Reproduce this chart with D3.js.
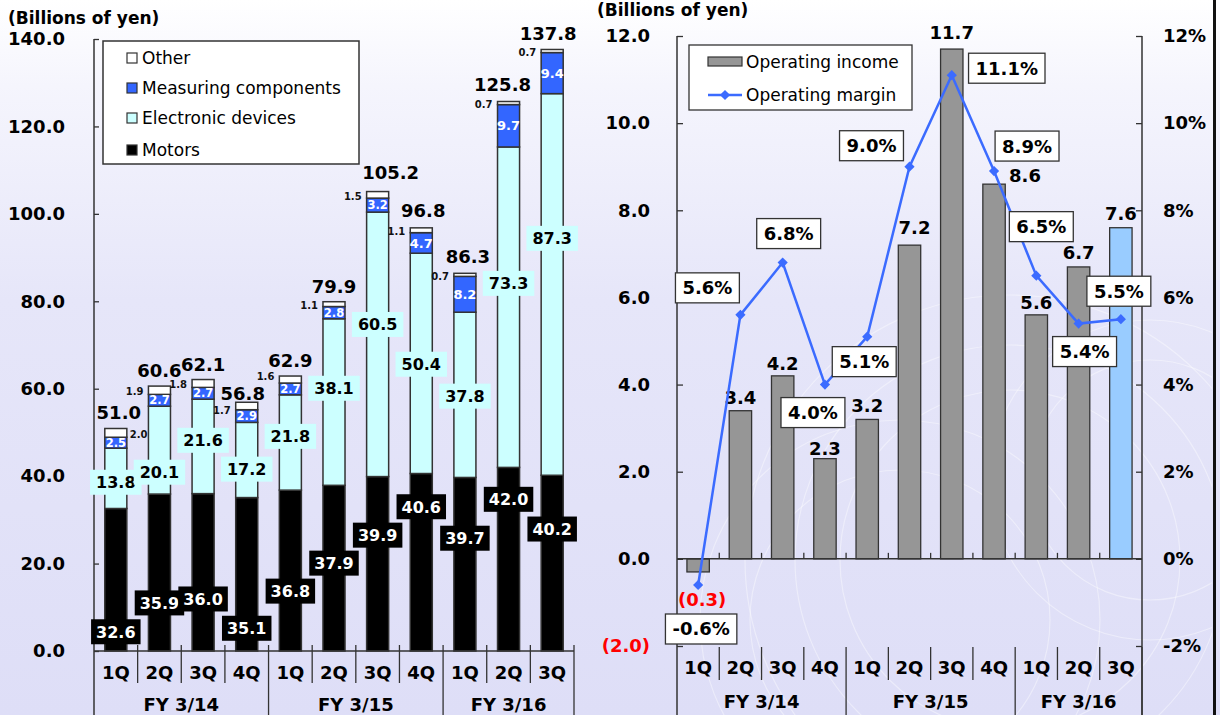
<!DOCTYPE html>
<html>
<head>
<meta charset="utf-8">
<script src="https://cdn.jsdelivr.net/npm/d3@7"></script>
<style>
  html, body { margin: 0; padding: 0; background: #fff; }
  svg { display: block; }
</style>
</head>
<body>
<svg id="chart" width="1220" height="715"></svg>
<script>
// ---- Data -------------------------------------------------------------
const quarters = ["1Q", "2Q", "3Q", "4Q", "1Q", "2Q", "3Q", "4Q", "1Q", "2Q", "3Q"];
const fiscalYears = ["FY 3/14", "FY 3/15", "FY 3/16"];
const quartersPerYear = [4, 4, 3];

// Net sales by segment (billions of yen)
const motors     = [32.6, 35.9, 36.0, 35.1, 36.8, 37.9, 39.9, 40.6, 39.7, 42.0, 40.2];
const electronic = [13.8, 20.1, 21.6, 17.2, 21.8, 38.1, 60.5, 50.4, 37.8, 73.3, 87.3];
const measuring  = [2.5, 2.7, 2.7, 2.9, 2.7, 2.8, 3.2, 4.7, 8.2, 9.7, 9.4];
const other      = [2.0, 1.9, 1.8, 1.7, 1.6, 1.1, 1.5, 1.1, 0.7, 0.7, 0.7];
const totals     = [51.0, 60.6, 62.1, 56.8, 62.9, 79.9, 105.2, 96.8, 86.3, 125.8, 137.8];
const salesTicks = [0, 20, 40, 60, 80, 100, 120, 140];

// Operating income (billions of yen) and operating margin (%)
const operatingIncome = [-0.3, 3.4, 4.2, 2.3, 3.2, 7.2, 11.7, 8.6, 5.6, 6.7, 7.6];
const operatingMargin = [-0.6, 5.6, 6.8, 4.0, 5.1, 9.0, 11.1, 8.9, 6.5, 5.4, 5.5];
const incomeTicks = [-2, 0, 2, 4, 6, 8, 10, 12];
const marginTicks = [-2, 0, 2, 4, 6, 8, 10, 12];

// ---- Label placement (value units / pixel nudges) ----------------------
const motorLabelAt      = [4.4, 11.0, 11.9, 5.2, 13.7, 20.1, 26.5, 33.0, 25.8, 34.7, 27.9];
const electronicLabelAt = [38.6, 40.9, 48.2, 41.6, 49.1, 60.1, 74.7, 65.6, 58.3, 84.1, 94.4];
const otherLabelDy      = [0, 0, 0, 3, -5, 0, 0, 0, 0, 0, 0];
const totalLabelNudge   = [[3, 0], [0, 0], [0, 0], [-4, 6], [0, 0], [0, 0],
                           [13, -3], [2, -2], [3, -2], [-6, -1], [-4, 0]];
const marginLabelNudge  = [[3, 44], [-33, -27], [6, -29], [-12, 28], [-3, 25], [-38, -21],
                           [55, -7], [33, -25], [5, -49], [6, 28], [-2, -28]];
const incomeLabelNudge  = [[4, 28], [0, -13], [0, -12.5], [0, -10.5], [0, -14], [5, -18],
                           [0, -17], [31, -9], [0, -12], [0, -14], [0, -14]];

// ---- Setup ------------------------------------------------------------
const FONT = '"DejaVu Sans", Verdana, sans-serif';
const W = 1220, H = 715;
const svg = d3.select("#chart").attr("font-family", FONT);
const defs = svg.append("defs");

const bg = defs.append("linearGradient").attr("id", "bg")
  .attr("x1", 0).attr("y1", 0).attr("x2", 0).attr("y2", 1);
[[0, "#ffffff"], [0.12, "#f5f5fd"], [0.42, "#e6e6f9"], [1, "#dedef7"]]
  .forEach(([o, c]) => bg.append("stop").attr("offset", o).attr("stop-color", c));
svg.append("rect").attr("width", W).attr("height", H).attr("fill", "url(#bg)");

// faint decorative swirls behind the right-hand panel
defs.append("clipPath").attr("id", "swirlClip")
  .append("rect").attr("x", 640).attr("y", 0).attr("width", 572).attr("height", H);
const swirl = svg.append("g").attr("clip-path", "url(#swirlClip)")
  .attr("fill", "none").attr("stroke", "#ffffff").attr("stroke-opacity", 0.4).attr("stroke-width", 1.2);
[[1010, 560, 170], [1010, 560, 215], [1010, 560, 265], [1150, 480, 120], [1150, 480, 160],
 [900, 620, 150], [900, 620, 200]].forEach(([cx, cy, r]) =>
  swirl.append("circle").attr("cx", cx).attr("cy", cy).attr("r", r));

// right frame line
svg.append("line").attr("x1", 1214.5).attr("x2", 1214.5).attr("y1", 0).attr("y2", H)
  .attr("stroke", "#111").attr("stroke-width", 3);

// label box helper
function boxLabel(g, cx, cy, text, opt) {
  const o = Object.assign({ size: 16, padX: 5, h: 25, fill: "#fff", color: "#000", stroke: "none", sw: 1.2 }, opt);
  const grp = g.append("g");
  const rect = grp.append("rect");
  const t = grp.append("text").attr("x", cx).attr("y", cy).attr("dy", "0.36em")
    .attr("text-anchor", "middle").attr("font-size", o.size).attr("font-weight", "bold")
    .attr("fill", o.color).text(text);
  const w = t.node().getComputedTextLength() + 2 * o.padX;
  rect.attr("x", cx - w / 2).attr("y", cy - o.h / 2).attr("width", w).attr("height", o.h)
    .attr("fill", o.fill).attr("stroke", o.stroke).attr("stroke-width", o.sw);
  return grp;
}

// category axis (quarters + fiscal-year groups)
function categoryAxis(g, x, yTop, yShortEnd, qY, fyY) {
  const bw = x.bandwidth();
  const x0 = x.range()[0];
  const groupEnds = d3.cumsum(quartersPerYear);
  for (let i = 1; i <= quarters.length; i++) {
    const xx = x0 + i * bw;
    const long = groupEnds.includes(i);
    g.append("line").attr("x1", xx).attr("x2", xx).attr("y1", yTop).attr("y2", long ? H : yShortEnd)
      .attr("stroke", "#333").attr("stroke-width", 1.3);
  }
  g.selectAll(".q").data(quarters).join("text")
    .attr("x", (d, i) => x(i) + bw / 2).attr("y", qY).attr("dy", "0.36em")
    .attr("text-anchor", "middle").attr("font-size", 18).attr("font-weight", "bold").text(d => d);
  let start = 0;
  fiscalYears.forEach((fy, k) => {
    const n = quartersPerYear[k];
    const cx = x0 + (start + n / 2) * bw;
    g.append("text").attr("x", cx).attr("y", fyY).attr("dy", "0.36em")
      .attr("text-anchor", "middle").attr("font-size", 18).attr("font-weight", "bold").text(fy);
    start += n;
  });
}

// ---- Left: net sales by segment ---------------------------------------
const xL = d3.scaleBand().domain(d3.range(quarters.length)).range([94, 574]);
const yL = d3.scaleLinear().domain([0, 140]).range([651, 39]);
const gL = svg.append("g");

gL.append("text").attr("x", 8).attr("y", 24).attr("font-size", 17).attr("font-weight", "bold")
  .text("(Billions of yen)");

gL.append("g").attr("transform", "translate(94,0)")
  .call(d3.axisLeft(yL).tickValues(salesTicks).tickFormat(d3.format(".1f"))
    .tickSizeInner(-5).tickSizeOuter(0).tickPadding(29))
  .attr("font-family", FONT).attr("font-size", 18)
  .call(g => g.select(".domain").remove())
  .call(g => g.selectAll("line").attr("stroke", "#333").attr("stroke-width", 1.3))
  .call(g => g.selectAll("text").attr("font-weight", "bold").attr("fill", "#000"));

gL.append("line").attr("x1", 94).attr("x2", 94).attr("y1", 39).attr("y2", H)
  .attr("stroke", "#333").attr("stroke-width", 1.5);

const rows = quarters.map((q, i) => ({ motors: motors[i], electronic: electronic[i], measuring: measuring[i], other: other[i] }));
const keys = ["motors", "electronic", "measuring", "other"];
const segColor = { motors: "#000000", electronic: "#ccffff", measuring: "#3366ff", other: "#ffffff" };
const stacked = d3.stack().keys(keys)(rows);
const barWL = xL.bandwidth() * 0.505;
const bxL = i => xL(i) + (xL.bandwidth() - barWL) / 2;

gL.append("g").selectAll("g").data(stacked).join("g")
  .attr("fill", s => segColor[s.key])
  .selectAll("rect").data(s => s).join("rect")
  .attr("x", (d, i) => bxL(i)).attr("width", barWL)
  .attr("y", d => yL(d[1])).attr("height", d => yL(d[0]) - yL(d[1]))
  .attr("stroke", "#333").attr("stroke-width", 1.5);

gL.append("line").attr("x1", 94).attr("x2", 574).attr("y1", 651).attr("y2", 651)
  .attr("stroke", "#333").attr("stroke-width", 1.5);
categoryAxis(gL, xL, 645, 683, 673, 705);

// segment labels
const cxL = i => xL(i) + xL.bandwidth() / 2;
motors.forEach((v, i) => boxLabel(gL, cxL(i), yL(motorLabelAt[i]), v.toFixed(1),
  { fill: "#000", color: "#fff", size: 16, padX: 5, h: 25 }));
electronic.forEach((v, i) => boxLabel(gL, cxL(i), yL(electronicLabelAt[i]), v.toFixed(1),
  { fill: "#ccffff", color: "#000", size: 16, padX: 6, h: 25 }));

const measSeries = stacked[2];
gL.append("g").selectAll("text").data(measSeries).join("text")
  .attr("x", (d, i) => cxL(i)).attr("y", d => (yL(d[0]) + yL(d[1])) / 2).attr("dy", "0.36em")
  .attr("text-anchor", "middle").attr("font-weight", "bold").attr("fill", "#fff")
  .attr("font-size", d => (yL(d[0]) - yL(d[1])) > 15 ? 13 : 11.5)
  .text((d, i) => measuring[i].toFixed(1));

const otherSeries = stacked[3];
gL.append("g").selectAll("text").data(otherSeries).join("text")
  .attr("x", (d, i) => i === 0 ? bxL(i) + barWL + 3 : bxL(i) - 5)
  .attr("y", (d, i) => (yL(d[0]) + yL(d[1])) / 2 + 5 + otherLabelDy[i])
  .attr("text-anchor", (d, i) => i === 0 ? "start" : "end")
  .attr("font-size", 10).attr("font-weight", "bold").attr("fill", "#111")
  .text((d, i) => other[i].toFixed(1));

gL.append("g").selectAll("text").data(totals).join("text")
  .attr("x", (d, i) => cxL(i) + totalLabelNudge[i][0])
  .attr("y", (d, i) => yL(d) - 9 + totalLabelNudge[i][1])
  .attr("text-anchor", "middle").attr("font-size", 18).attr("font-weight", "bold")
  .text(d => d.toFixed(1));

// legend
const legL = gL.append("g");
legL.append("rect").attr("x", 103).attr("y", 41).attr("width", 256).attr("height", 123)
  .attr("fill", "#fff").attr("stroke", "#333").attr("stroke-width", 1.5);
[["Other", "other", 58], ["Measuring components", "measuring", 88],
 ["Electronic devices", "electronic", 118], ["Motors", "motors", 150]].forEach(([name, key, y]) => {
  legL.append("rect").attr("x", 127).attr("y", y - 5).attr("width", 10).attr("height", 10)
    .attr("fill", segColor[key]).attr("stroke", "#333").attr("stroke-width", 1.2);
  legL.append("text").attr("x", 142).attr("y", y).attr("dy", "0.36em")
    .attr("font-size", 17).text(name);
});

// ---- Right: operating income & margin ---------------------------------
const xR = d3.scaleBand().domain(d3.range(quarters.length)).range([677, 1142]);
const yR = d3.scaleLinear().domain([-2, 12]).range([646, 36]);
const yP = d3.scaleLinear().domain([-2, 12]).range([646, 36]);
const gR = svg.append("g");

gR.append("text").attr("x", 597).attr("y", 16).attr("font-size", 17).attr("font-weight", "bold")
  .text("(Billions of yen)");

gR.append("g").attr("transform", "translate(677,0)")
  .call(d3.axisLeft(yR).tickValues(incomeTicks)
    .tickFormat(d => d < 0 ? `(${Math.abs(d).toFixed(1)})` : d.toFixed(1))
    .tickSizeInner(-6).tickSizeOuter(0).tickPadding(27))
  .attr("font-family", FONT).attr("font-size", 18)
  .call(g => g.select(".domain").remove())
  .call(g => g.selectAll("line").attr("stroke", "#333").attr("stroke-width", 1.3))
  .call(g => g.selectAll("text").attr("font-weight", "bold").attr("fill", d => d < 0 ? "#ff0000" : "#000"));

gR.append("g").attr("transform", "translate(1142,0)")
  .call(d3.axisRight(yP).tickValues(marginTicks).tickFormat(d => d + "%")
    .tickSizeInner(-6).tickSizeOuter(0).tickPadding(21))
  .attr("font-family", FONT).attr("font-size", 18)
  .call(g => g.select(".domain").remove())
  .call(g => g.selectAll("line").attr("stroke", "#333").attr("stroke-width", 1.3))
  .call(g => g.selectAll("text").attr("font-weight", "bold").attr("fill", "#000"));

gR.append("line").attr("x1", 677).attr("x2", 677).attr("y1", 36).attr("y2", H)
  .attr("stroke", "#333").attr("stroke-width", 1.5);
gR.append("line").attr("x1", 1142).attr("x2", 1142).attr("y1", 36).attr("y2", H)
  .attr("stroke", "#333").attr("stroke-width", 1.5);

const barWR = xR.bandwidth() * 0.53;
const bxR = i => xR(i) + (xR.bandwidth() - barWR) / 2;
const cxR = i => xR(i) + xR.bandwidth() / 2;

gR.append("g").selectAll("rect").data(operatingIncome).join("rect")
  .attr("x", (d, i) => bxR(i)).attr("width", barWR)
  .attr("y", d => yR(Math.max(0, d))).attr("height", d => Math.abs(yR(d) - yR(0)))
  .attr("fill", (d, i) => i === operatingIncome.length - 1 ? "#99ccff" : "#969696")
  .attr("stroke", "#333").attr("stroke-width", 1.3);

// zero line with inner ticks at quarter boundaries
gR.append("line").attr("x1", 677).attr("x2", 1142).attr("y1", yR(0)).attr("y2", yR(0))
  .attr("stroke", "#333").attr("stroke-width", 1.5);
gR.append("g").selectAll("line").data(d3.range(1, quarters.length)).join("line")
  .attr("x1", i => 677 + i * xR.bandwidth()).attr("x2", i => 677 + i * xR.bandwidth())
  .attr("y1", yR(0)).attr("y2", yR(0) - 6).attr("stroke", "#333").attr("stroke-width", 1.3);

categoryAxis(gR, xR, 647, 680, 668, 702);

// income value labels
operatingIncome.forEach((v, i) => {
  const [dx, dy] = incomeLabelNudge[i];
  const neg = v < 0;
  gR.append("text")
    .attr("x", cxR(i) + dx)
    .attr("y", yR(v) + dy).attr("dy", "0.36em")
    .attr("text-anchor", "middle").attr("font-size", 18).attr("font-weight", "bold")
    .attr("fill", neg ? "#ff0000" : "#000")
    .text(neg ? `(${Math.abs(v).toFixed(1)})` : v.toFixed(1));
});

// margin line
const lineColor = "#3b6bff";
gR.append("path").datum(operatingMargin)
  .attr("d", d3.line().x((d, i) => cxR(i)).y(d => yP(d)))
  .attr("fill", "none").attr("stroke", lineColor).attr("stroke-width", 2.5);
const diamond = d3.symbol(d3.symbolSquare, 52);
gR.append("g").selectAll("path").data(operatingMargin).join("path")
  .attr("d", diamond)
  .attr("transform", (d, i) => `translate(${cxR(i)},${yP(d)}) rotate(45)`)
  .attr("fill", lineColor);

// margin labels
operatingMargin.forEach((v, i) => {
  const [dx, dy] = marginLabelNudge[i];
  boxLabel(gR, cxR(i) + dx, yP(v) + dy, v.toFixed(1) + "%",
    { fill: "#fff", color: "#000", stroke: "#333", sw: 1.3, size: 18, padX: 7, h: 30 });
});

// legend
const legR = gR.append("g");
legR.append("rect").attr("x", 689).attr("y", 45).attr("width", 223).attr("height", 65)
  .attr("fill", "#fff").attr("stroke", "#333").attr("stroke-width", 1.3);
legR.append("rect").attr("x", 708).attr("y", 57).attr("width", 34).attr("height", 9)
  .attr("fill", "#969696").attr("stroke", "#333").attr("stroke-width", 1.2);
legR.append("text").attr("x", 746).attr("y", 62).attr("dy", "0.36em").attr("font-size", 17)
  .text("Operating income");
legR.append("line").attr("x1", 708).attr("x2", 742).attr("y1", 95).attr("y2", 95)
  .attr("stroke", lineColor).attr("stroke-width", 2.5);
legR.append("path").attr("d", diamond).attr("transform", "translate(725,95) rotate(45)")
  .attr("fill", lineColor);
legR.append("text").attr("x", 746).attr("y", 95).attr("dy", "0.36em").attr("font-size", 17)
  .text("Operating margin");
</script>
</body>
</html>
